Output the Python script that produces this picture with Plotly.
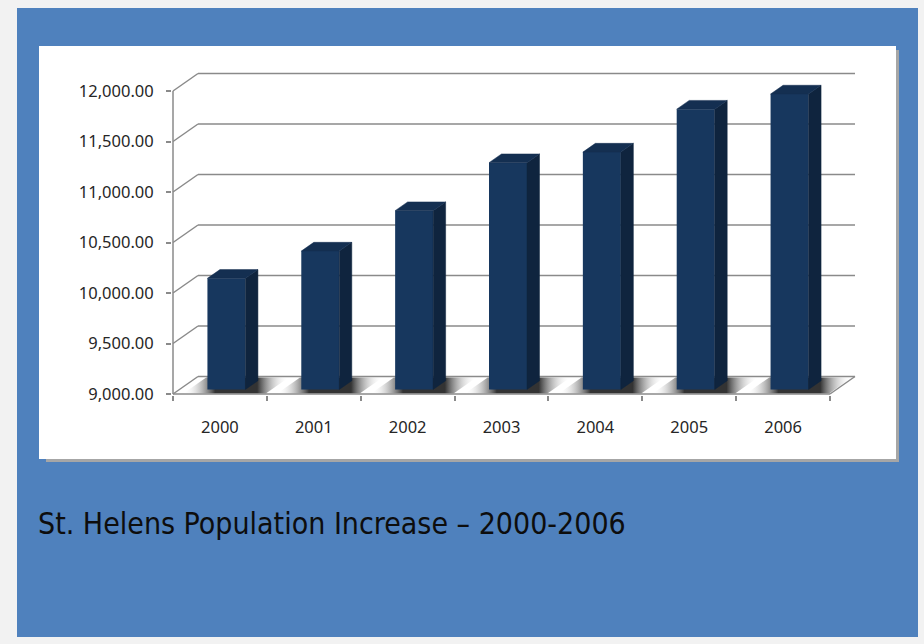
import plotly.graph_objects as go

# ---------------- data ----------------
years = ["2000", "2001", "2002", "2003", "2004", "2005", "2006"]
population = [10100, 10370, 10770, 11245, 11350, 11775, 11925]
y_ticks = [9000, 9500, 10000, 10500, 11000, 11500, 12000]
title_text = "St. Helens Population Increase – 2000-2006"

# ---------------- geometry / styles ----------------
W, H = 924, 644
L, R, T, B = 172, 67, 72, 249
PW = W - L - R
PH = H - T - B

Y_MIN, Y_MAX = y_ticks[0], y_ticks[-1]
FRONT_TOP_PX, FRONT_BOT_PX = 91, 394
ypx = (FRONT_BOT_PX - FRONT_TOP_PX) / (Y_MAX - Y_MIN)   # px per unit
n = len(years)
xpx = (830 - 173) / n                                  # px per category
XR0 = -0.5 - 1 / xpx
XR1 = XR0 + PW / xpx
YR0 = Y_MIN - (T + PH - FRONT_BOT_PX) / ypx
YR1 = YR0 + PH / ypx

DX = 25 / xpx       # depth offset (x units)
DY = 17.5 / ypx     # depth offset (value units)
F0, F1 = 0.26, 0.76
BW = 38 / xpx

FRONT_C = "#17375E"
SIDE_C = "#0F243E"
TOP_C = "#142F51"
GRID_C = "#8A8A8A"


def xp(px):
    return (px - L) / PW


def yp(py):
    return (H - B - py) / PH


fig = go.Figure()

# ---------------- background panels ----------------
shapes = [
    dict(type="rect", xref="paper", yref="paper", x0=xp(17), x1=xp(918), y0=yp(637), y1=yp(8),
         fillcolor="#4F81BD", line=dict(width=0), layer="below"),
    dict(type="rect", xref="paper", yref="paper", x0=xp(46), x1=xp(899), y0=yp(462), y1=yp(50),
         fillcolor="#A6A6A6", line=dict(width=0), layer="below"),
    dict(type="rect", xref="paper", yref="paper", x0=xp(39), x1=xp(896), y0=yp(459), y1=yp(46),
         fillcolor="#FFFFFF", line=dict(width=0), layer="below"),
]

# gridlines on back wall + left wall diagonals
for t in y_ticks:
    shapes.append(dict(type="line", xref="x", yref="y", x0=-0.5, y0=t, x1=-0.5 + DX, y1=t + DY,
                       line=dict(color=GRID_C, width=1.5), layer="below"))
    shapes.append(dict(type="line", xref="x", yref="y", x0=-0.5 + DX, y0=t + DY, x1=n - 0.5 + DX, y1=t + DY,
                       line=dict(color=GRID_C, width=1.5), layer="below"))
# floor front edge and right edge
shapes.append(dict(type="line", xref="x", yref="y", x0=-0.5, y0=Y_MIN, x1=n - 0.5, y1=Y_MIN,
                   line=dict(color=GRID_C, width=1.5), layer="below"))
shapes.append(dict(type="line", xref="x", yref="y", x0=n - 0.5, y0=Y_MIN, x1=n - 0.5 + DX, y1=Y_MIN + DY,
                   line=dict(color=GRID_C, width=1.5), layer="below"))
# vertical value axis
shapes.append(dict(type="line", xref="x", yref="y", x0=-0.5, y0=Y_MIN, x1=-0.5, y1=Y_MAX,
                   line=dict(color=GRID_C, width=1.5), layer="below"))

# ---------------- floor shadows (base subplot) ----------------
for i in range(n):
    lft, rgt = i - 0.40, i + 0.48
    fa, fb = 0.05, 0.95
    xs = [lft + fa * DX, rgt + fa * DX, rgt + fb * DX, lft + fb * DX, lft + fa * DX]
    ys = [Y_MIN + fa * DY, Y_MIN + fa * DY, Y_MIN + fb * DY, Y_MIN + fb * DY, Y_MIN + fa * DY]
    fig.add_trace(go.Scatter(
        x=xs, y=ys, mode="lines", fill="toself", line=dict(width=0),
        fillgradient=dict(type="horizontal",
                          colorscale=[[0, "rgba(255,255,255,0)"], [0.3, "rgba(15,15,15,0.85)"],
                                      [0.7, "rgba(15,15,15,0.85)"], [1, "rgba(255,255,255,0)"]]),
        hoverinfo="skip", showlegend=False, xaxis="x", yaxis="y"))

# ---------------- bars (overlay subplot) ----------------
bx = [i + F0 * DX for i in range(n)]
fig.add_trace(go.Bar(
    x=bx, y=[v - Y_MIN for v in population], base=[Y_MIN + F0 * DY] * n, width=BW,
    marker=dict(color=FRONT_C, line=dict(width=0)), xaxis="x2", yaxis="y2",
    hovertext=[f"{y}: {v:,.0f}" for y, v in zip(years, population)], hoverinfo="text",
    showlegend=False))

sx, sy, tx, ty = [], [], [], []
for i, v in enumerate(population):
    l0 = i - BW / 2 + F0 * DX
    r0 = i + BW / 2 + F0 * DX
    l1 = i - BW / 2 + F1 * DX
    r1 = i + BW / 2 + F1 * DX
    o0, o1 = F0 * DY, F1 * DY
    sx += [r0, r0, r1, r1, r0, None]
    sy += [Y_MIN + o0, v + o0, v + o1, Y_MIN + o1, Y_MIN + o0, None]
    tx += [l0, r0, r1, l1, l0, None]
    ty += [v + o0, v + o0, v + o1, v + o1, v + o0, None]

fig.add_trace(go.Scatter(x=sx, y=sy, mode="lines", fill="toself", fillcolor=SIDE_C,
                         line=dict(width=0.5, color=SIDE_C), hoverinfo="skip", showlegend=False,
                         xaxis="x2", yaxis="y2"))
fig.add_trace(go.Scatter(x=tx, y=ty, mode="lines", fill="toself", fillcolor=TOP_C,
                         line=dict(width=0.5, color=TOP_C), hoverinfo="skip", showlegend=False,
                         xaxis="x2", yaxis="y2"))

# ---------------- layout ----------------
tick_font = dict(family="Noto Sans", size=16.5, color="#262626")
fig.update_layout(
    width=W, height=H,
    margin=dict(l=L, r=R, t=T, b=B, pad=0),
    paper_bgcolor="#F2F2F2",
    plot_bgcolor="rgba(0,0,0,0)",
    showlegend=False,
    shapes=shapes,
    xaxis=dict(range=[XR0, XR1], tickmode="array", tickvals=list(range(n)), ticktext=years,
               ticks="", showgrid=False, zeroline=False, showline=False,
               tickfont=tick_font, ticklabelstandoff=20,
               minor=dict(tickmode="array", tickvals=[k - 0.5 for k in range(n + 1)],
                          ticks="outside", ticklen=5, tickcolor=GRID_C, tickwidth=1.5, showgrid=False)),
    yaxis=dict(range=[YR0, YR1], tickmode="array", tickvals=y_ticks, tickformat=",.2f",
               ticks="outside", ticklen=5, tickcolor=GRID_C, tickwidth=1.5,
               showgrid=False, zeroline=False, showline=False,
               tickfont=tick_font, ticklabelstandoff=9),
    xaxis2=dict(range=[XR0, XR1], overlaying="x", visible=False, showgrid=False, zeroline=False),
    yaxis2=dict(range=[YR0, YR1], overlaying="y", visible=False, showgrid=False, zeroline=False),
    annotations=[dict(text=title_text, xref="paper", yref="paper", x=xp(36), y=yp(523),
                      xanchor="left", yanchor="middle", showarrow=False,
                      font=dict(family="DejaVu Sans Condensed, Lato, sans-serif", size=30,
                                color="#0D0D0D"))],
)

fig.write_html("out.html")
